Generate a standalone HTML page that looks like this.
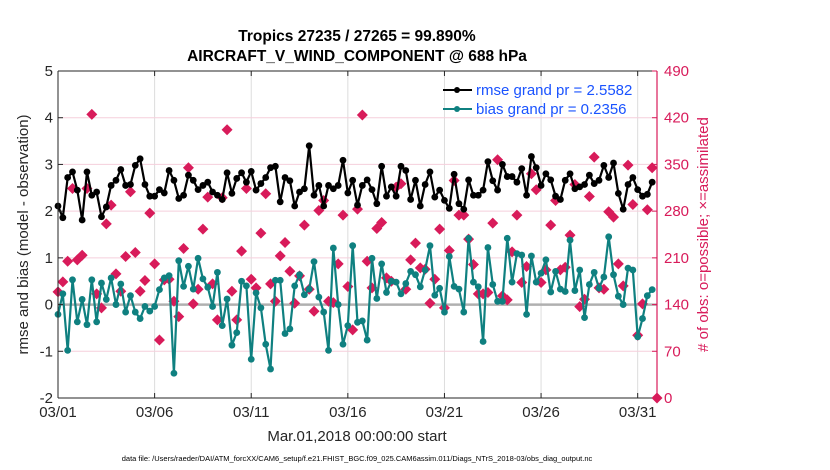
<!DOCTYPE html>
<html><head><meta charset="utf-8"><style>
html,body{margin:0;padding:0;background:#fff;}
svg{display:block;font-family:"Liberation Sans",Arial,sans-serif;}
</style></head><body>
<svg id="chart" width="830" height="470" viewBox="0 0 830 470"></svg>
<script>
const dayTicks = [0,5,10,15,20,25,30];
const dayLabels = ["03/01","03/06","03/11","03/16","03/21","03/26","03/31"];
const leftTicks = [-2,-1,0,1,2,3,4,5];
const rightTicks = [0,70,140,210,280,350,420,490];
const rmse = [2.11,1.86,2.72,2.84,2.45,1.81,2.84,2.34,2.41,1.88,2.09,2.55,2.66,2.89,2.55,2.57,2.98,3.12,2.57,2.32,2.32,2.46,2.39,2.87,2.66,2.27,2.34,2.77,2.66,2.46,2.55,2.62,2.41,2.34,2.25,2.82,2.38,2.70,2.82,2.62,2.85,2.45,
2.59,2.72,2.93,2.96,2.20,2.72,2.65,2.11,2.41,2.48,3.40,2.34,2.55,2.11,2.55,2.48,2.55,3.09,2.39,2.66,2.13,2.55,2.67,2.46,2.16,2.96,2.32,2.52,2.32,2.96,2.87,2.25,2.66,2.11,2.57,2.84,2.30,2.45,2.23,2.06,2.79,2.16,
2.04,2.67,2.34,2.34,2.45,3.06,2.65,2.45,3.00,2.74,2.74,2.62,2.91,2.34,3.17,2.93,2.55,2.80,2.67,2.32,2.25,2.66,2.80,2.48,2.52,2.57,2.77,2.59,2.66,2.98,2.72,3.03,2.38,2.04,2.57,2.72,2.46,2.32,2.36,2.62,null];
const bias = [-0.21,0.23,-0.98,0.53,-0.37,0.11,-0.43,0.53,-0.37,0.46,0.11,0.57,0,0.44,-0.16,0.19,-0.16,-0.30,-0.04,-0.14,-0.04,0.32,0.57,0.62,-1.47,0.94,0.39,0.82,0.33,0.99,0.55,0.37,-0.04,0.69,-0.45,0.12,-0.87,-0.60,0.50,0.40,-1.17,0.25,
-0.07,-0.85,-1.38,0.52,0.52,-0.62,-0.52,0.40,0.64,0.21,0.33,0.92,0.16,-0.16,-0.98,1.21,0,-0.85,-0.45,1.26,-0.38,-0.35,-0.76,0.99,0.13,0.87,0.26,0.50,0.48,0.23,0.45,0.71,0.64,0.38,0.74,1.26,0.20,0.35,-0.16,1.03,0.39,0.33,
-0.16,1.42,0.48,0.38,-0.79,1.22,0.43,0.07,0.07,1.42,0.48,1.09,1.06,-0.21,1.04,0.48,0.67,0.96,0.27,0.71,0.33,0.28,1.38,0.30,0.74,-0.28,0.43,0.69,0.35,0.59,1.45,0.64,0.18,0,0.78,0.74,-0.69,-0.30,0.19,0.32,null];
const nobs = [159,174,205,314,207,214,314,425,156,135,261,289,186,160,212,309,218,160,176,277,201,87,177,178,145,122,224,345,141,163,253,301,171,117,300,402,160,117,220,314,178,165,
247,306,171,145,213,233,190,142,183,259,163,130,281,296,145,143,201,274,167,102,283,424,205,165,254,263,180,175,316,321,163,207,232,195,193,142,178,253,135,221,326,274,
274,238,200,156,156,158,262,357,153,147,219,274,173,197,336,312,173,192,259,296,192,196,244,320,137,148,302,361,165,163,279,271,201,168,349,290,94,141,282,345,0];

const X0=58,X1=657,Y0=71,Y1=398;
const xs=d=>X0+(d/31)*(X1-X0);
const yl=v=>Y1-(v+2)/7*(Y1-Y0);
const yr=c=>Y1-c/490*(Y1-Y0);
const NS="http://www.w3.org/2000/svg";
const svg=document.getElementById('chart');
function mk(tag,attrs,parent){const e=document.createElementNS(NS,tag);for(const k in attrs)e.setAttribute(k,attrs[k]);(parent||svg).appendChild(e);return e;}
function txt(s,attrs,parent){const e=mk('text',attrs,parent);e.textContent=s;return e;}

mk('rect',{x:X0,y:Y0,width:X1-X0,height:Y1-Y0,fill:'#fff'});
const grid=mk('g',{});


dayTicks.forEach(d=>mk('line',{x1:xs(d),x2:xs(d),y1:Y0,y2:Y1,stroke:'#dcdcdc','stroke-width':1},grid));
rightTicks.forEach(c=>mk('line',{x1:X0,x2:X1,y1:yr(c),y2:yr(c),stroke:'#f5cfdc','stroke-width':1},grid));
const zl=mk('line',{x1:X0,x2:X1,y1:yl(0),y2:yl(0),stroke:'#b0b0b0','stroke-width':2.5});



const og=mk('g',{fill:'#d81b5a'});


nobs.forEach((c,i)=>{const x=xs(i*0.25),y=yr(c);
 const p=mk('path',{d:`M${x} ${y-5.5}L${x+5.5} ${y}L${x} ${y+5.5}L${x-5.5} ${y}Z`},og);
 
 });

function series(vals,color,name){
 const g=mk('g',{});
 
 
 let d='';vals.forEach((v,i)=>{if(v===null)return;d+=(d?'L':'M')+xs(i*0.25).toFixed(1)+' '+yl(v).toFixed(1);});
 mk('path',{d:d,fill:'none',stroke:color,'stroke-width':2.2,'stroke-linejoin':'round'},g);
 vals.forEach((v,i)=>{if(v===null)return;
  const c=mk('circle',{cx:xs(i*0.25),cy:yl(v),r:3.4,fill:color},g);
  
  });
}
series(bias,'#0f8080','bias-series');
series(rmse,'#000','rmse-series');

mk('line',{x1:X0,x2:X1,y1:Y0,y2:Y0,stroke:'#262626','stroke-width':1});
mk('line',{x1:X0,x2:X1,y1:Y1,y2:Y1,stroke:'#262626','stroke-width':1});
mk('line',{x1:X0,x2:X0,y1:Y0,y2:Y1,stroke:'#262626','stroke-width':1});
mk('line',{x1:X1,x2:X1,y1:Y0,y2:Y1,stroke:'#d81b5a','stroke-width':1.2});

const xa=mk('g',{'font-size':15,fill:'#262626','text-anchor':'middle'});


dayTicks.forEach((d,i)=>{mk('line',{x1:xs(d),x2:xs(d),y1:Y1,y2:Y1-5,stroke:'#262626'},xa);mk('line',{x1:xs(d),x2:xs(d),y1:Y0,y2:Y0+5,stroke:'#262626'},xa);
 txt(dayLabels[i],{x:xs(d),y:417},xa);});
const ya=mk('g',{'font-size':15,fill:'#262626','text-anchor':'end'});


leftTicks.forEach(v=>{mk('line',{x1:X0,x2:X0+5,y1:yl(v),y2:yl(v),stroke:'#262626'},ya);txt(String(v),{x:X0-5,y:yl(v)+5},ya);});
const ra=mk('g',{'font-size':15,fill:'#d81b5a','text-anchor':'start'});


rightTicks.forEach(c=>{mk('line',{x1:X1-5,x2:X1,y1:yr(c),y2:yr(c),stroke:'#d81b5a'},ra);txt(String(c),{x:X1+7,y:yr(c)+5},ra);});

let t;
t=txt('Tropics 27235 / 27265 = 99.890%',{x:357,y:41,'font-size':15.5,'font-weight':'bold','text-anchor':'middle',fill:'#000'});

t=txt('AIRCRAFT_V_WIND_COMPONENT @ 688 hPa',{x:357,y:61,'font-size':15.5,'font-weight':'bold','text-anchor':'middle',fill:'#000'});

t=txt('Mar.01,2018 00:00:00 start',{x:357,y:441,'font-size':15,'text-anchor':'middle',fill:'#262626'});

t=txt('rmse and bias (model - observation)',{x:0,y:0,'font-size':15,'text-anchor':'middle',fill:'#262626',transform:`translate(28,${(Y0+Y1)/2}) rotate(-90)`});

t=txt('# of obs: o=possible; \u00d7=assimilated',{x:0,y:0,'font-size':15,'text-anchor':'middle',fill:'#d81b5a',transform:`translate(708,${(Y0+Y1)/2}) rotate(-90)`});

t=txt('data file: /Users/raeder/DAI/ATM_forcXX/CAM6_setup/f.e21.FHIST_BGC.f09_025.CAM6assim.011/Diags_NTrS_2018-03/obs_diag_output.nc',{x:357,y:461,'font-size':7.5,'text-anchor':'middle',fill:'#000'});


const lg=mk('g',{'font-size':15,fill:'#1a53ff'});


mk('line',{x1:443,x2:472,y1:90,y2:90,stroke:'#000','stroke-width':2},lg);
mk('circle',{cx:457,cy:90,r:3,fill:'#000'},lg);
txt('rmse grand pr = 2.5582',{x:476,y:95},lg);
mk('line',{x1:443,x2:472,y1:109,y2:109,stroke:'#0f8080','stroke-width':2},lg);
mk('circle',{cx:457,cy:109,r:3,fill:'#0f8080'},lg);
txt('bias grand pr = 0.2356',{x:476,y:114},lg);
</script>
</body></html>
